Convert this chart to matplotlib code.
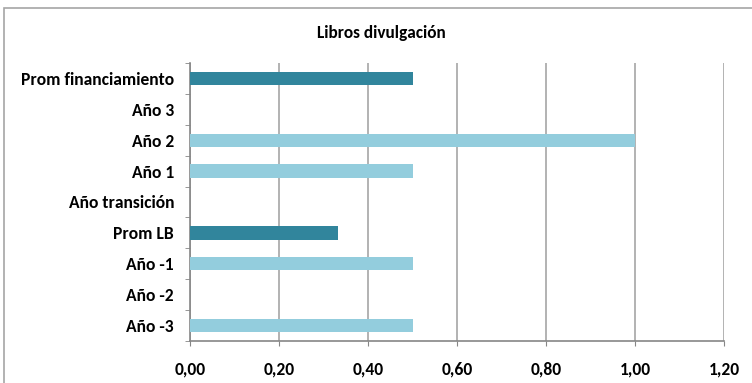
import matplotlib
matplotlib.use('Agg')
import matplotlib.pyplot as plt
from matplotlib.patches import Rectangle

plt.rcParams['font.family'] = ['Carlito', 'Liberation Sans Narrow', 'DejaVu Sans']

categorias = ['Año -3', 'Año -2', 'Año -1', 'Prom LB', 'Año transición',
              'Año 1', 'Año 2', 'Año 3', 'Prom financiamiento']
valores = [0.5, 0.0, 0.5, 1/3, 0.0, 0.5, 1.0, 0.0, 0.5]
colores = ['#93CDDD', '#93CDDD', '#93CDDD', '#31859C', '#93CDDD',
           '#93CDDD', '#93CDDD', '#93CDDD', '#31859C']
ticks_x = [0.0, 0.2, 0.4, 0.6, 0.8, 1.0, 1.2]

fig = plt.figure(figsize=(7.52, 3.83), dpi=100)
ax = fig.add_axes([190/752, 1-341/383, 534/752, 278/383])

pos = list(range(len(categorias)))
ax.barh(pos, valores, height=0.43, color=colores, zorder=3)

ax.set_xlim(0, 1.2)
ax.set_ylim(-0.5, len(categorias)-0.5)
ax.set_xticks(ticks_x)
ax.set_xticklabels([f'{t:.2f}'.replace('.', ',') for t in ticks_x],
                   fontsize=12.6, fontweight='bold')
ax.set_yticks(pos)
ax.set_yticklabels(categorias, fontsize=12.6, fontweight='bold')
ax.set_yticks([p - 0.5 for p in pos] + [len(pos)-0.5], minor=True)
ax.tick_params(axis='y', which='major', length=0, pad=11.5)
ax.tick_params(axis='y', which='minor', length=3.6, color='#868686', direction='out')
ax.tick_params(axis='x', length=3.6, color='#868686', direction='out', pad=11)

ax.grid(axis='x', color='#A6A6A6', linewidth=1.2, zorder=0)
for s in ['top', 'right']:
    ax.spines[s].set_visible(False)
for s in ['left', 'bottom']:
    ax.spines[s].set_color('#868686')
    ax.spines[s].set_linewidth(1.2)

fig.text(381/752, 1-33/383, 'Libros divulgación', ha='center', va='center',
         fontsize=12.4, fontweight='bold')

fig.patches.append(Rectangle((4/752, -0.1), 1.2, 1-8/383+0.1,
                             transform=fig.transFigure, fill=False,
                             edgecolor='#A6A6A6', linewidth=1.2))

fig.savefig('out.png', dpi=100)
